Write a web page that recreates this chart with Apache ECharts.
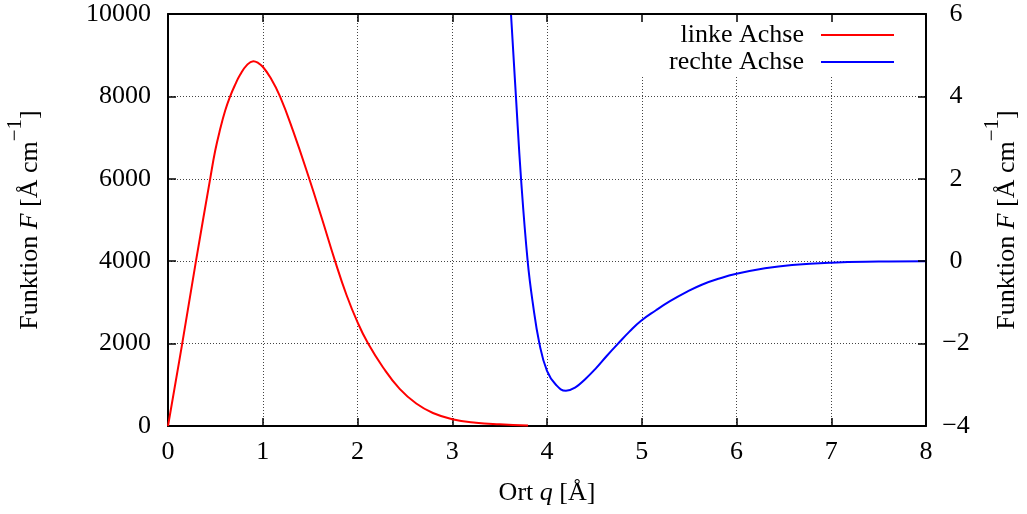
<!DOCTYPE html>
<html>
<head>
<meta charset="utf-8">
<script src="https://cdn.jsdelivr.net/npm/echarts@6/dist/echarts.min.js"></script>
<style>
  html, body { margin: 0; padding: 0; background: #fff; }
  #chart { width: 1027px; height: 514px; }
</style>
</head>
<body>
<div id="chart"></div>
<script>
// Left-axis curve: position q [Å] and function value F
const leftQ = [0, 0.15, 0.295, 0.445, 0.498, 0.55, 0.603, 0.656, 0.71, 0.761, 0.832, 0.9,
               0.95, 1.0, 1.077, 1.182, 1.322, 1.491, 1.621, 1.761, 1.884, 2.0, 2.112,
               2.27, 2.445, 2.62, 2.796, 3.0, 3.25, 3.5, 3.8];
const leftF = [0, 2000, 4000, 6000, 6680, 7200, 7650, 8000, 8290, 8525, 8760, 8855,
               8815, 8720, 8470, 8000, 7150, 6000, 5060, 4020, 3180, 2520, 2000,
               1420, 900, 545, 315, 165, 80, 40, 10];

// Right-axis curve: position q [Å] and function value F
const rightQ = [3.62, 3.672, 3.726, 3.796, 3.849, 3.92, 4.0, 4.094, 4.2, 4.3, 4.4, 4.516,
                4.63, 4.75, 4.87, 4.99, 5.15, 5.298, 5.47, 5.64, 5.82, 6.0, 6.3, 6.586,
                7.0, 7.5, 8.0];
const rightF = [6, 4, 2, 0, -1, -2, -2.66, -3.0, -3.144, -3.06, -2.87, -2.6,
                -2.3, -2.0, -1.71, -1.45, -1.19, -0.97, -0.75, -0.565, -0.42, -0.305, -0.17, -0.09,
                -0.035, -0.01, 0];

const seriesNames = ['linke Achse', 'rechte Achse'];

// Axis ranges and tick steps
const xRange = [0, 8, 1];
const yLeftRange = [0, 10000, 2000];
const yRightRange = [-4, 6, 2];

const FONT = 'Liberation Serif';
const FS = 26;

const pairs = (xs, ys) => xs.map((x, i) => [x, ys[i]]);
const plainFmt = v => String(v);
const minusFmt = v => (v < 0 ? '\u2212' + Math.abs(v) : String(v));

const yTitle = '{t|Funktion }{i|F}{t| [Å cm}{s|\u22121}{t|]}';
const yTitleRich = {
  t: { fontFamily: FONT, fontSize: FS, color: '#000', verticalAlign: 'middle' },
  i: { fontFamily: FONT, fontSize: FS, fontStyle: 'italic', color: '#000', verticalAlign: 'middle' },
  s: { fontFamily: FONT, fontSize: 21, color: '#000', verticalAlign: 'middle', padding: [0, 0, 30, 0] }
};

const gridLine = { show: true, lineStyle: { color: '#444', width: 1, type: [1, 2] } };
const frameLine = { show: true, onZero: false, lineStyle: { color: '#000', width: 2 } };
const tick = { show: true, inside: true, length: 8, lineStyle: { color: '#000', width: 1.5 } };
const tickFont = { fontFamily: FONT, fontSize: FS, color: '#000' };

const chart = echarts.init(document.getElementById('chart'), null, { renderer: 'canvas' });

chart.setOption({
  animation: false,
  backgroundColor: '#fff',
  grid: { left: 168, right: 101, top: 14, bottom: 88, containLabel: false, outerBoundsMode: 'none' },
  xAxis: [
    {
      type: 'value', position: 'bottom', min: xRange[0], max: xRange[1], interval: xRange[2],
      axisLine: frameLine, axisTick: tick, splitLine: gridLine,
      axisLabel: Object.assign({ margin: 13, formatter: plainFmt }, tickFont),
      name: '{t|Ort }{i|q}{t| [Å]}', nameLocation: 'middle', nameGap: 54,
      nameTextStyle: { rich: {
        t: { fontFamily: FONT, fontSize: FS, color: '#000' },
        i: { fontFamily: FONT, fontSize: FS, fontStyle: 'italic', color: '#000' }
      } },
      z: 0
    },
    {
      type: 'value', position: 'top', min: xRange[0], max: xRange[1], interval: xRange[2],
      axisLine: frameLine, axisTick: tick, splitLine: { show: false },
      axisLabel: { show: false },
      z: 3
    }
  ],
  yAxis: [
    {
      type: 'value', position: 'left', min: yLeftRange[0], max: yLeftRange[1], interval: yLeftRange[2],
      axisLine: frameLine, axisTick: tick, splitLine: gridLine,
      axisLabel: Object.assign({ margin: 17, formatter: plainFmt }, tickFont),
      name: yTitle, nameLocation: 'middle', nameGap: 112,
      nameTextStyle: { rich: yTitleRich },
      z: 0
    },
    {
      type: 'value', position: 'right', min: yRightRange[0], max: yRightRange[1], interval: yRightRange[2],
      axisLine: frameLine, axisTick: tick, splitLine: { show: false },
      axisLabel: Object.assign({ margin: 30, align: 'center', formatter: minusFmt }, tickFont),
      name: yTitle, nameLocation: 'middle', nameGap: 56,
      nameTextStyle: { rich: yTitleRich },
      z: 3
    }
  ],
  legend: {
    orient: 'vertical', align: 'right', right: 128, top: 17,
    icon: 'rect', itemWidth: 73, itemHeight: 2, itemGap: 1,
    textStyle: { fontFamily: FONT, fontSize: FS, color: '#000', padding: [0, 12, 0, 0] },
    data: seriesNames
  },
  graphic: [
    { type: 'rect', left: 600, top: 15, shape: { width: 324, height: 61 },
      style: { fill: '#fff' }, z: 1, silent: true }
  ],
  series: [
    {
      name: seriesNames[0], type: 'line', xAxisIndex: 0, yAxisIndex: 0,
      data: pairs(leftQ, leftF), smooth: 0.45, showSymbol: false, symbol: 'none',
      lineStyle: { color: '#ff0000', width: 2 }, itemStyle: { color: '#ff0000' }, z: 2
    },
    {
      name: seriesNames[1], type: 'line', xAxisIndex: 0, yAxisIndex: 1,
      data: pairs(rightQ, rightF), smooth: 0.45, showSymbol: false, symbol: 'none',
      lineStyle: { color: '#0000ff', width: 2 }, itemStyle: { color: '#0000ff' }, z: 2
    }
  ]
});
</script>
</body>
</html>
